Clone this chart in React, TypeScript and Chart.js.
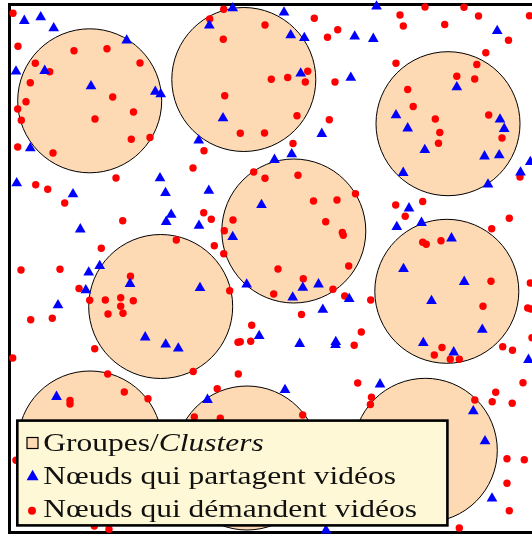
import { useEffect, useRef } from 'react';
import { Chart, registerables } from 'chart.js';

Chart.register(...registerables);

// Square field of the simulation (same units on both axes)
const FIELD_MIN = 0;
const FIELD_MAX = 528;

// Clusters (centre x, centre y, radius)
const clusterX = [80.2, 234.3, 438.5, 284.3, 151.2, 437.3, 80.5, 237.5, 415.8];
const clusterY = [431.7, 453, 408.8, 301.5, 226, 241.2, 89.5, 74.5, 82.2];
const clusterR = [72, 72, 72, 72, 72, 72, 72, 72, 72];

// Nodes sharing videos
const sharingNodes: [number, number][] = [
  [14.8, 511.7], [31.2, 515.3], [44.2, 504.3], [117.2, 492], [6.5, 461], [35.2, 461.7],
  [81.5, 446.3], [20.8, 384.3], [7.2, 349.3], [63.5, 338.3], [145.8, 440.8], [151.2, 438.3],
  [223.2, 524.3], [199.8, 507], [213.5, 414.3], [189.2, 392], [150.5, 354.3], [156, 339.5],
  [199.3, 341.8], [274.5, 520], [367, 526], [281.2, 497.3], [294.8, 494.5], [345.2, 496],
  [363.8, 493.7], [291.2, 459], [341.3, 454.8], [312.3, 398.7], [282.2, 378.3], [265, 372.7],
  [386.5, 417.3], [487.7, 501.5], [447.3, 445.3], [398.2, 404.2], [490.5, 413], [494.7, 403.7],
  [415.3, 382.5], [475, 376.2], [489.7, 377.3], [393.7, 359.7], [511, 360], [520.8, 370.5],
  [478.5, 348], [70.8, 303.2], [90.2, 266.5], [79.2, 260], [76.3, 242.3], [48.5, 227.3],
  [120.5, 248.7], [47, 135.7], [161.7, 317.8], [156.7, 310.7], [189.5, 306.8], [223.2, 295.5],
  [252, 327.5], [190.5, 244.5], [237.2, 248], [135.7, 195.2], [156.2, 188], [168.8, 184],
  [249.7, 196.5], [198, 132.7], [293.3, 244.8], [309, 248.2], [283.2, 235], [339.7, 233.5],
  [313.3, 222.8], [290.2, 188.7], [326.3, 190.5], [326, 187.5], [370.5, 148.2], [275.5, 142.5],
  [387.3, 305.5], [394, 263.5], [399.5, 324.2], [412, 309.7], [442, 294.2], [454.7, 250.7],
  [422, 231.5], [472.8, 202.8], [413.8, 189.5], [444.2, 180.2], [519, 172.7], [463.8, 121.3],
  [475.5, 91.3], [482.5, 34], [316.5, 2],
];

// Nodes requesting videos
const requestingNodes: [number, number][] = [
  [3.5, 519.2], [8.5, 486.2], [25.8, 469.2], [40.2, 460.8], [64.5, 481.8], [97.5, 483.8],
  [20.8, 449.8], [16.5, 430.8], [8.2, 423.5], [11.8, 412.2], [103.2, 435.5], [85.5, 413.5],
  [124, 420.5], [121.8, 393.2], [8.2, 385.5], [43.5, 379.5], [106.5, 354.5], [26.2, 347.8],
  [38.2, 343.2], [130.5, 469.5], [140.5, 395], [214.2, 523.2], [200.2, 513.5], [255.5, 507.5],
  [213.8, 493.2], [215.2, 436.8], [230.8, 399.2], [255, 399.5], [194.5, 381.8], [183.5, 364.5],
  [244.2, 360.5], [255.5, 354.2], [304.8, 514.2], [328.2, 502.8], [318, 495.2], [390.5, 517.5],
  [393.8, 506.5], [261.8, 453.2], [278.2, 455], [298.2, 461.2], [295.8, 450.5], [325.5, 450.5],
  [386.5, 469.2], [287.5, 416.8], [319.8, 412.8], [283.5, 389], [288.5, 357.2], [346, 338.7],
  [327.5, 332.5], [304, 331.5], [415.5, 525.5], [454.5, 525.2], [469, 516.5], [520, 516.8],
  [435.2, 508], [499, 492.2], [476.3, 479.8], [467.3, 468], [447.3, 456.2], [465.2, 453.5],
  [398.2, 443], [403.7, 426], [425.8, 413.5], [430.3, 400], [429, 389.2], [479.2, 417.5],
  [492.5, 394.5], [510.5, 355.5], [413.2, 331], [55.2, 329.5], [113.2, 311.8], [91.8, 284.2],
  [11.5, 262.5], [50.5, 263.2], [121, 256.2], [69.5, 244], [80.2, 232.2], [95.8, 232.5],
  [111.2, 234.8], [111.2, 226.2], [123.8, 231.8], [98.5, 218.5], [113.5, 219.2], [21.2, 212.8],
  [42.8, 214.2], [85.2, 183.8], [3.2, 174.5], [98.2, 158.5], [114.8, 140.5], [60.5, 132],
  [60.5, 128.5], [194.2, 319.8], [201.8, 313.2], [223.5, 312.5], [214.8, 301.8], [166.8, 292.5],
  [204.8, 286.8], [214.2, 278.8], [220.2, 241.8], [242.2, 207.2], [241.2, 191.2], [228.5, 190.2],
  [230.8, 190.8], [183.7, 161], [228.8, 158.5], [207.7, 143.8], [138.5, 133.8], [316.2, 310.8],
  [332.8, 300], [333.8, 297.2], [386.2, 327.5], [268.5, 263.5], [339.2, 266.5], [293.8, 253.8],
  [264.2, 238.5], [323.5, 243.2], [335.2, 236.5], [361.2, 232.5], [292, 218], [351.8, 200.5],
  [344.7, 187.3], [348.2, 149.5], [362, 135.3], [360.9, 128], [395.7, 316.3], [499.8, 314.3],
  [482.2, 303.8], [413.2, 290.2], [416.7, 288.2], [431.5, 291.7], [481.5, 251.2], [520.8, 249.5],
  [473.5, 226.2], [518.2, 224.5], [521.5, 223.5], [432.5, 185], [424.8, 177.5], [440.8, 173.3],
  [449.8, 173.3], [493.2, 185.8], [503, 182.3], [522.5, 194.8], [513.5, 149.8], [486.2, 140.2],
  [465.3, 132.5], [482.7, 130.8], [502.7, 129.2], [293.2, 117.5], [184.8, 115.5], [210.8, 114.2],
  [497.5, 73.8], [514.8, 72.8], [497.5, 49.2], [499.8, 21.8], [449.8, 4.5], [6.5, 72.2],
  [84.8, 6.5], [99.5, 3.2],
];

// Legend labels
const legendGroups = 'Groupes/';
const legendClusters = 'Clusters';
const legendSharing = 'Nœuds qui partagent vidéos';
const legendRequesting = 'Nœuds qui démandent vidéos';

const PEACH = 'rgb(253,217,180)';
const BLUE = '#0000ff';
const RED = '#ff0000';
const LEGEND_BG = 'rgb(255,248,214)';

const framePlugin = {
  id: 'fieldFrame',
  beforeDatasetsDraw(chart: any) {
    const { ctx, scales } = chart;
    const l = scales.x.getPixelForValue(FIELD_MIN);
    const r = scales.x.getPixelForValue(FIELD_MAX);
    const t = scales.y.getPixelForValue(FIELD_MAX);
    const b = scales.y.getPixelForValue(FIELD_MIN);
    ctx.save();
    ctx.lineWidth = 3;
    ctx.strokeStyle = '#000';
    ctx.strokeRect(l, t, r - l, b - t);
    ctx.restore();
  },
};

const legendPlugin = {
  id: 'boxLegend',
  afterDraw(chart: any) {
    const ctx = chart.ctx as CanvasRenderingContext2D;
    ctx.save();
    // box
    ctx.fillStyle = LEGEND_BG;
    ctx.fillRect(17.3, 420.6, 430.1, 104.8);
    ctx.lineWidth = 2.6;
    ctx.strokeStyle = '#000';
    ctx.strokeRect(17.3, 420.6, 430.1, 104.8);

    // markers
    ctx.fillStyle = PEACH;
    ctx.fillRect(27, 437.5, 11, 11);
    ctx.lineWidth = 1.2;
    ctx.strokeStyle = '#000';
    ctx.strokeRect(27, 437.5, 11, 11);

    ctx.fillStyle = BLUE;
    ctx.beginPath();
    ctx.moveTo(32.6, 469.8);
    ctx.lineTo(38.6, 480.3);
    ctx.lineTo(26.6, 480.3);
    ctx.closePath();
    ctx.fill();

    ctx.fillStyle = RED;
    ctx.beginPath();
    ctx.arc(32, 510.8, 4, 0, Math.PI * 2);
    ctx.fill();

    // text
    const font = '26px "Liberation Serif", serif';
    const ifont = 'italic 26px "Liberation Serif", serif';
    ctx.font = font;
    const sx = 373.7 / ctx.measureText(legendRequesting).width;
    ctx.fillStyle = '#111';
    ctx.textBaseline = 'alphabetic';

    ctx.save();
    ctx.translate(43.3, 450.8);
    ctx.scale(sx, 1);
    ctx.font = font;
    ctx.fillText(legendGroups, 0, 0);
    const w = ctx.measureText(legendGroups).width;
    ctx.font = ifont;
    ctx.fillText(legendClusters, w, 0);
    ctx.restore();

    ctx.save();
    ctx.translate(43.3, 483.6);
    ctx.scale(sx, 1);
    ctx.font = font;
    ctx.fillText(legendSharing, 0, 0);
    ctx.restore();

    ctx.save();
    ctx.translate(43.3, 516.6);
    ctx.scale(sx, 1);
    ctx.font = font;
    ctx.fillText(legendRequesting, 0, 0);
    ctx.restore();

    ctx.restore();
  },
};

export default function App() {
  const ref = useRef<HTMLCanvasElement | null>(null);

  useEffect(() => {
    if (!ref.current) return;
    const chart = new Chart(ref.current, {
      type: 'scatter',
      data: {
        datasets: [
          {
            label: legendSharing,
            data: sharingNodes.map(([x, y]) => ({ x, y })),
            pointStyle: 'triangle',
            pointRadius: 6.2,
            backgroundColor: BLUE,
            borderWidth: 0,
            clip: false,
          } as any,
          {
            label: legendRequesting,
            data: requestingNodes.map(([x, y]) => ({ x, y })),
            pointStyle: 'circle',
            pointRadius: 3.7,
            backgroundColor: RED,
            borderWidth: 0,
            clip: false,
          } as any,
          {
            type: 'bubble',
            label: legendGroups + legendClusters,
            data: clusterX.map((x, i) => ({ x, y: clusterY[i], r: clusterR[i] })),
            backgroundColor: PEACH,
            borderColor: '#000',
            borderWidth: 1,
            clip: false,
          } as any,
        ],
      },
      options: {
        animation: false,
        responsive: false,
        maintainAspectRatio: false,
        devicePixelRatio: 1,
        events: [],
        layout: { padding: 0, autoPadding: false },
        scales: {
          x: { type: 'linear', min: -9.5, max: 522.5, display: false },
          y: { type: 'linear', min: -3.5, max: 532.5, display: false },
        },
        plugins: {
          legend: { display: false },
          tooltip: { enabled: false },
        },
      },
      plugins: [framePlugin, legendPlugin],
    });
    return () => chart.destroy();
  }, []);

  return (
    <div
      style={{
        position: 'fixed',
        left: 0,
        top: 0,
        width: 532,
        height: 536,
        overflow: 'hidden',
        background: '#fff',
      }}
    >
      <canvas ref={ref} width={532} height={536} style={{ display: 'block', width: 532, height: 536 }} />
    </div>
  );
}
